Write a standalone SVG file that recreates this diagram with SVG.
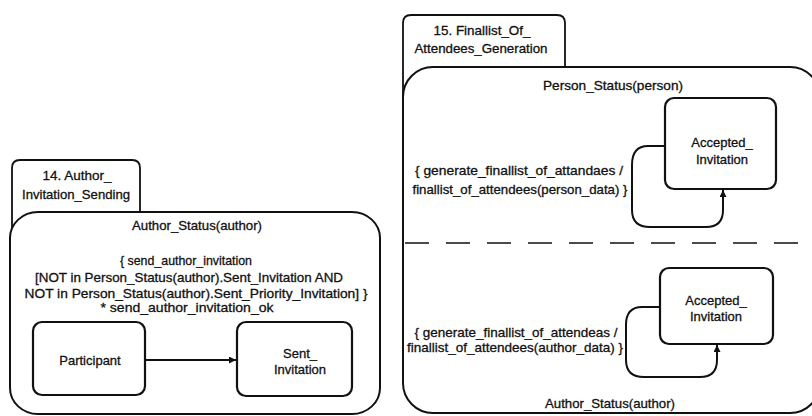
<svg xmlns="http://www.w3.org/2000/svg" width="812" height="416" viewBox="0 0 812 416">
  <style>
    .frame { fill: #ffffff; stroke: #111111; stroke-width: 2; }
    .tab { fill: none; stroke: #111111; stroke-width: 1.8; }
    .state { fill: #ffffff; stroke: #111111; stroke-width: 2.2; }
    .edge { fill: none; stroke: #111111; stroke-width: 2; }
    .div { fill: none; stroke: #111111; stroke-width: 1.5; stroke-dasharray: 24 17; }
    text { font-family: "Liberation Sans", Arial, sans-serif; font-size: 13px; fill: #111111; stroke: #111111; stroke-width: 0.3; text-anchor: middle; }
  </style>
  <defs>
    <marker id="arrow" viewBox="0 0 10 10" refX="10" refY="5" markerWidth="9" markerHeight="7" markerUnits="userSpaceOnUse" orient="auto">
      <path d="M0,0 L10,5 L0,10 Z" fill="#111111"/>
    </marker>
  </defs>
  <rect width="812" height="416" fill="#ffffff"/>

  <!-- 14. Author_Invitation_Sending -->
  <g id="author-invitation-sending">
    <path class="tab" d="M12,230 V168 Q12,160 20,160 H132 Q140,160 140,168 V212"/>
    <text x="77" y="180" textLength="69" lengthAdjust="spacingAndGlyphs">14. Author_</text>
    <text x="76" y="199" textLength="108" lengthAdjust="spacingAndGlyphs">Invitation_Sending</text>
    <rect id="author-status-left" class="frame" x="10" y="212" width="370" height="202" rx="28" ry="26"/>
    <text x="197" y="230" textLength="130" lengthAdjust="spacingAndGlyphs">Author_Status(author)</text>
    <text x="186" y="265" textLength="132" lengthAdjust="spacingAndGlyphs">{ send_author_invitation</text>
    <text x="189" y="282" textLength="308" lengthAdjust="spacingAndGlyphs">[NOT in Person_Status(author).Sent_Invitation AND</text>
    <text x="196" y="298" textLength="343" lengthAdjust="spacingAndGlyphs">NOT in Person_Status(author).Sent_Priority_Invitation] }</text>
    <text x="187" y="312" textLength="173" lengthAdjust="spacingAndGlyphs">* send_author_invitation_ok</text>
  </g>

  <g id="participant">
    <rect class="state" x="33" y="322" width="112" height="73" rx="9"/>
    <text x="90" y="365">Participant</text>
  </g>

  <g id="sent-invitation">
    <rect class="state" x="237" y="322" width="115" height="74" rx="9"/>
    <text x="300" y="358">Sent_</text>
    <text x="300" y="374">Invitation</text>
  </g>

  <!-- 15. Finallist_Of_Attendees_Generation -->
  <g id="finallist-of-attendees-generation">
    <path class="tab" d="M403,100 V23 Q403,15 411,15 H557 Q565,15 565,23 V67"/>
    <text x="482" y="35" textLength="97" lengthAdjust="spacingAndGlyphs">15. Finallist_Of_</text>
    <text x="481" y="53" textLength="133" lengthAdjust="spacingAndGlyphs">Attendees_Generation</text>
    <rect class="frame" x="403" y="67" width="417" height="346" rx="30" ry="30"/>
    <line class="div" x1="405" y1="243" x2="812" y2="243"/>
  </g>

  <g id="person-status">
    <text x="613" y="90" textLength="140" lengthAdjust="spacingAndGlyphs">Person_Status(person)</text>
    <text x="519" y="175" textLength="208" lengthAdjust="spacingAndGlyphs">{ generate_finallist_of_attandaes /</text>
    <text x="520" y="194" font-size="14" textLength="215" lengthAdjust="spacingAndGlyphs">finallist_of_attendees(person_data) }</text>
  </g>

  <g id="accepted-invitation-person">
    <rect class="state" x="665" y="98" width="111" height="91" rx="9"/>
    <text x="722" y="147">Accepted_</text>
    <text x="722" y="164">Invitation</text>
  </g>

  <g id="author-status-right">
    <text x="516" y="337" font-size="12" textLength="203" lengthAdjust="spacingAndGlyphs">{ generate_finallist_of_attendeas /</text>
    <text x="515" y="352" font-size="12" textLength="216" lengthAdjust="spacingAndGlyphs">finallist_of_attendees(author_data) }</text>
    <text x="610" y="408" textLength="130" lengthAdjust="spacingAndGlyphs">Author_Status(author)</text>
  </g>

  <g id="accepted-invitation-author">
    <rect class="state" x="660" y="268" width="113" height="76" rx="9"/>
    <text x="716" y="305">Accepted_</text>
    <text x="716" y="321">Invitation</text>
  </g>

  <!-- transitions -->
  <g id="connectors">
    <line class="edge" x1="145" y1="360" x2="236" y2="360" marker-end="url(#arrow)"/>
    <path class="edge" d="M665,146 H648 Q632,146 632,165 V210 Q632,227 650,227 H706 Q723,227 723,210 V190" marker-end="url(#arrow)"/>
    <path class="edge" d="M660,307 H642 Q626,307 626,325 V360 Q626,377 644,377 H700 Q717,377 717,360 V345" marker-end="url(#arrow)"/>
  </g>
</svg>
